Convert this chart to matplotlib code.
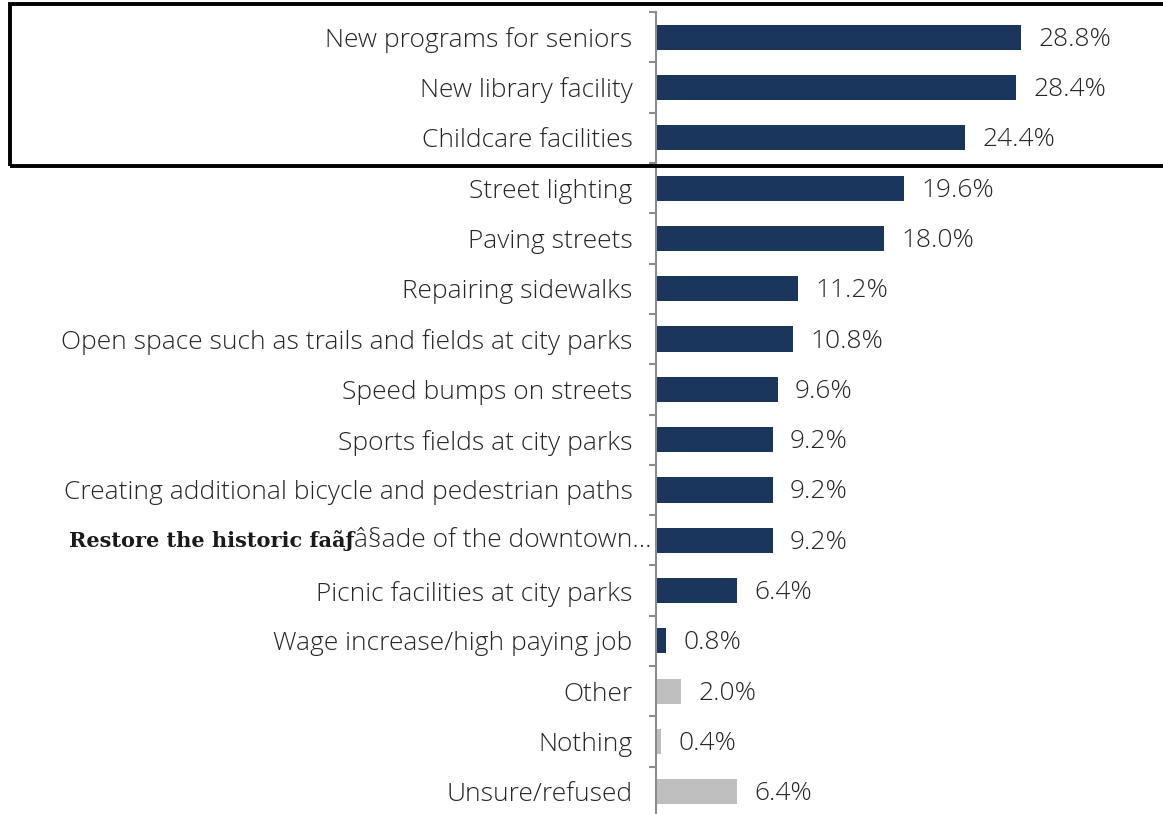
import matplotlib
matplotlib.use("Agg")
from matplotlib import pyplot as plt
from matplotlib.patches import Rectangle
import numpy as np

categories = [
    "New programs for seniors",
    "New library facility",
    "Childcare facilities",
    "Street lighting",
    "Paving streets",
    "Repairing sidewalks",
    "Open space such as trails and fields at city parks",
    "Speed bumps on streets",
    "Sports fields at city parks",
    "Creating additional bicycle and pedestrian paths",
    "Restore the historic fa\u00e3\u0192\u00e2\u00a7ade of the downtown...",
    "Picnic facilities at city parks",
    "Wage increase/high paying job",
    "Other",
    "Nothing",
    "Unsure/refused",
]
values = [28.8, 28.4, 24.4, 19.6, 18.0, 11.2, 10.8, 9.6, 9.2, 9.2, 9.2, 6.4, 0.8, 2.0, 0.4, 6.4]
is_other = [False] * 13 + [True] * 3

NAVY = "#1B365D"
GRAY = "#BFBFBF"
TEXT = "#262626"
FONT = "Open Sans"
FS = 19

W, H = 1163, 814
fig = plt.figure(figsize=(W / 100, H / 100), dpi=100)
ax = fig.add_axes([656 / W, -3 / H, 1 - 656 / W, (817 - 12) / H])

n = len(categories)
y = np.arange(n)
colors = [GRAY if o else NAVY for o in is_other]
ax.barh(y, values, height=0.5, color=colors, edgecolor="none")
ax.set_ylim(n - 0.5, -0.5)
ax.set_xlim(0, 40)

for yi, v in zip(y, values):
    ax.text(v + 1.35, yi + 0.04, f"{v:.1f}%", va="center", ha="left",
            fontsize=FS, color=TEXT, family=FONT, fontweight="light")

for s in ["top", "right", "bottom"]:
    ax.spines[s].set_visible(False)
ax.spines["left"].set_color("#8C8C8C")
ax.spines["left"].set_linewidth(1.5)
ax.set_xticks([])

# category labels on major ticks, separators as minor ticks
restore_idx = 10
tick_labels = list(categories)
tick_labels[restore_idx] = ""
ax.set_yticks(y)
ax.set_yticklabels(tick_labels, fontsize=FS, color=TEXT, family=FONT, fontweight="light")
ax.tick_params(axis="y", which="major", length=0, pad=17)
ax.set_yticks(np.arange(-0.5, n, 1.0), minor=True)
ax.tick_params(axis="y", which="minor", length=5, width=1.5, color="#8C8C8C")

# the garbled label mixes a bold serif run with the normal font
serif_part = "Restore the historic fa\u00e3\u0192"
sans_part = "\u00e2\u00a7ade of the downtown..."
_, ycat = fig.transFigure.inverted().transform(ax.transData.transform((0, restore_idx)))
t2 = fig.text(652 / W, ycat, sans_part, ha="right", va="center", fontsize=FS,
              family=FONT, fontweight="light", color=TEXT)
fig.canvas.draw()
bb = t2.get_window_extent()
x0 = bb.x0 / W
fig.text(x0, ycat, serif_part, ha="right", va="center", fontsize=15,
         family="DejaVu Serif", fontweight="bold", color="#1A1A1A")

# highlight box around top three
fig.add_artist(Rectangle((10 / W, 1 - 166 / H), 1.2, (166 - 4) / H,
                         transform=fig.transFigure, fill=False,
                         edgecolor="black", linewidth=2.8, clip_on=False))

fig.savefig("out.png", dpi=100)
